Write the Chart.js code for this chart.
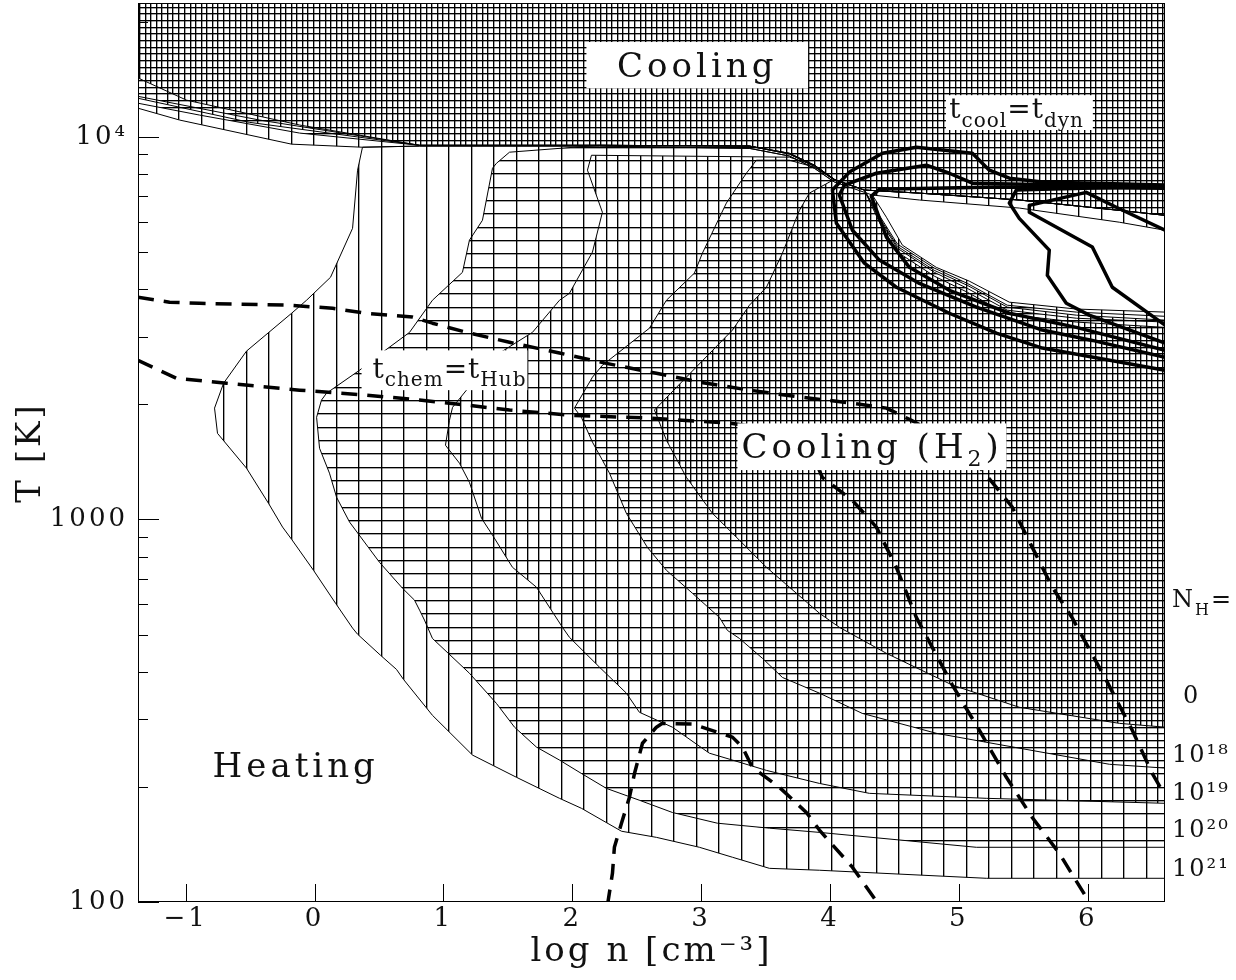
<!DOCTYPE html>
<html lang="en">
<head>
<meta charset="UTF-8">
<title>Heating and cooling regions - log n vs T</title>
<script src="https://cdn.jsdelivr.net/npm/chart.js"></script>
<style>
    body { margin: 0; background: #fff; }
    #chart { display: block; }
</style>
</head>
<body>
<canvas id="chart" width="1236" height="980"></canvas>
<script>
    // Every curve is a list of [log n, log T] pairs.
    const xTicks = [-1, 0, 1, 2, 3, 4, 5, 6];
    const yTicks = [100, 200, 300, 400, 500, 600, 700, 800, 900,
                    1000, 2000, 3000, 4000, 5000, 6000, 7000, 8000, 9000, 10000, 20000];
    const yTickLabels = {100: '100', 1000: '1000', 10000: '10⁴'};

    // Cooling regions for each column density: upper part (above ~10^4 K) and lower-right part
    const n21Top = [[-1.37,4.35],[6.6,4.35],[6.6,3.756],[6.245,3.777],[5.469,3.814],[4.694,3.835],[4.329,3.848],[4.034,3.882],[3.879,3.918],[3.685,3.950],[3.375,3.970],[2.211,3.976],[0.815,3.976],[0.372,3.973],[-0.178,3.981],[-1.047,4.044],[-1.37,4.075]];
    const n21Low = [[4.329,3.848],[4.438,3.790],[4.562,3.717],[4.825,3.659],[5.081,3.623],[5.392,3.568],[5.912,3.550],[6.6,3.542],[6.6,2.062],[5.213,2.062],[3.918,2.083],[3.530,2.088],[3.243,2.117],[2.987,2.143],[2.653,2.169],[2.382,2.185],[2.071,2.245],[1.901,2.271],[1.567,2.326],[1.226,2.384],[0.915,2.488],[0.690,2.582],[0.636,2.608],[0.512,2.645],[0.334,2.700],[0.295,2.716],[0.163,2.781],[-0.008,2.867],[-0.178,2.948],[-0.248,2.980],[-0.357,3.042],[-0.528,3.134],[-0.753,3.225],[-0.776,3.291],[-0.706,3.356],[-0.528,3.440],[-0.178,3.539],[-0.062,3.573],[0.124,3.633],[0.295,3.761],[0.334,3.913],[0.372,3.973],[0.815,3.976],[2.211,3.976],[3.375,3.970],[3.685,3.950],[3.879,3.918],[4.034,3.882]];

    const n20Top = [[-1.37,4.35],[6.6,4.35],[6.6,3.795],[6.245,3.808],[5.469,3.835],[4.694,3.853],[4.267,3.861],[4.034,3.887],[3.879,3.923],[3.685,3.955],[3.375,3.976],[2.211,3.978],[0.815,3.978],[-0.116,4.010],[-0.892,4.057],[-1.37,4.088]];
    const n20Low = [[4.267,3.861],[4.383,3.795],[4.523,3.720],[4.810,3.657],[5.066,3.617],[5.376,3.560],[5.912,3.542],[6.6,3.531],[6.6,2.143],[5.136,2.143],[3.918,2.182],[3.530,2.193],[3.126,2.206],[2.777,2.234],[2.521,2.266],[2.265,2.297],[2.071,2.336],[1.901,2.371],[1.722,2.405],[1.552,2.457],[1.412,2.519],[1.202,2.598],[0.915,2.689],[0.853,2.737],[0.815,2.763],[0.776,2.789],[0.683,2.820],[0.504,2.888],[0.272,2.993],[0.171,3.058],[0.116,3.121],[0.039,3.186],[0.016,3.267],[0.054,3.312],[0.093,3.330],[0.349,3.390],[0.520,3.435],[0.737,3.489],[0.915,3.573],[1.148,3.646],[1.202,3.730],[1.303,3.782],[1.381,3.918],[1.412,3.931],[1.513,3.960],[2.211,3.978],[3.375,3.976],[3.685,3.955],[3.879,3.923],[4.034,3.887]];

    const n19Top = [[-1.37,4.35],[6.6,4.35],[6.6,3.795],[6.245,3.808],[5.469,3.835],[4.694,3.853],[4.267,3.861],[4.034,3.889],[3.879,3.926],[3.685,3.957],[3.375,3.976],[2.211,3.978],[0.815,3.978],[-0.504,4.038],[-1.37,4.101]];
    const n19Low = [[4.267,3.861],[4.383,3.790],[4.523,3.714],[4.810,3.651],[5.066,3.612],[5.376,3.555],[5.912,3.534],[6.6,3.521],[6.6,2.258],[5.213,2.271],[4.306,2.284],[3.918,2.310],[3.507,2.344],[3.243,2.371],[3.064,2.389],[2.777,2.457],[2.521,2.496],[2.420,2.546],[2.211,2.614],[1.978,2.692],[1.924,2.718],[1.722,2.823],[1.536,2.875],[1.381,2.959],[1.296,3.003],[1.202,3.097],[1.125,3.147],[1.016,3.194],[1.047,3.259],[1.071,3.293],[1.179,3.338],[1.435,3.435],[1.691,3.489],[1.901,3.573],[1.978,3.591],[2.157,3.699],[2.234,3.803],[2.118,3.913],[2.149,3.952],[3.685,3.947],[3.879,3.926],[4.034,3.889]];

    const n18Top = [[-1.37,4.35],[6.6,4.35],[6.6,3.795],[6.245,3.808],[5.469,3.835],[4.694,3.853],[4.267,3.861],[4.034,3.889],[3.879,3.926],[3.685,3.957],[3.375,3.976],[2.211,3.978],[0.815,3.978],[-0.427,4.044],[-1.37,4.106]];
    const n18Low = [[4.267,3.861],[4.383,3.785],[4.523,3.709],[4.810,3.646],[5.066,3.604],[5.376,3.547],[5.912,3.526],[6.6,3.516],[6.6,2.350],[6.168,2.360],[4.825,2.441],[4.251,2.493],[3.918,2.546],[3.631,2.587],[3.476,2.637],[3.297,2.689],[3.204,2.710],[3.142,2.744],[2.933,2.807],[2.731,2.867],[2.583,2.927],[2.420,3.016],[2.289,3.121],[2.157,3.202],[2.071,3.267],[2.017,3.291],[2.157,3.372],[2.234,3.403],[2.599,3.500],[2.731,3.573],[2.948,3.644],[3.010,3.696],[3.196,3.827],[3.351,3.905],[3.429,3.939],[3.685,3.939],[3.879,3.921],[4.034,3.889]];

    const n0Top = [[-1.37,4.35],[6.6,4.35],[6.6,3.795],[6.245,3.808],[5.469,3.835],[4.694,3.853],[4.267,3.861],[4.034,3.889],[3.879,3.926],[3.685,3.957],[3.375,3.976],[2.211,3.978],[0.815,3.978],[-0.116,4.031],[-0.993,4.096],[-1.37,4.154]];
    const n0Low = [[4.267,3.861],[4.383,3.777],[4.523,3.699],[4.810,3.636],[5.066,3.594],[5.376,3.536],[5.912,3.516],[6.6,3.502],[6.6,2.457],[6.245,2.467],[5.469,2.509],[4.950,2.567],[4.438,2.650],[4.073,2.718],[3.918,2.755],[3.507,2.875],[3.243,2.964],[3.088,3.016],[2.886,3.110],[2.731,3.207],[2.638,3.286],[2.886,3.372],[3.243,3.495],[3.375,3.560],[3.507,3.607],[3.631,3.696],[3.763,3.808],[3.840,3.853],[4.034,3.889]];

    // t_cool = t_dyn curves (thick solid)
    const tcoolA = [[6.6,3.874],[5.648,3.882],[5.392,3.892],[5.237,3.913],[5.105,3.957],[4.670,3.973],[4.407,3.957],[4.151,3.908],[4.019,3.861],[4.050,3.774],[4.267,3.670],[4.515,3.607],[4.926,3.539],[5.291,3.487],[5.648,3.448],[6.6,3.390]];
    const tcoolB = [[6.6,3.869],[5.105,3.879],[4.926,3.905],[4.748,3.926],[4.360,3.905],[4.112,3.874],[4.073,3.848],[4.174,3.756],[4.383,3.678],[4.694,3.617],[5.136,3.555],[5.648,3.495],[6.036,3.468],[6.6,3.424]];
    const tcoolC = [[6.6,3.866],[5.314,3.869],[4.383,3.863],[4.321,3.845],[4.438,3.738],[4.616,3.659],[4.926,3.599],[5.392,3.539],[5.912,3.502],[6.6,3.442]];
    const tcoolD = [[6.6,3.871],[5.648,3.863],[5.446,3.861],[5.392,3.827],[5.469,3.787],[5.702,3.704],[5.687,3.638],[5.834,3.565],[6.012,3.534],[6.6,3.461]];
    const tcoolE = [[6.6,3.756],[6.222,3.816],[5.989,3.855],[5.547,3.821],[5.547,3.803],[6.036,3.712],[6.191,3.607],[6.6,3.508]];

    // t_chem = t_Hub curves (thick dashed)
    const chemUpper = [[-1.37,3.581],[-1.125,3.568],[-0.892,3.565],[-0.194,3.560],[0.140,3.552],[0.403,3.539],[0.760,3.529],[0.915,3.513],[1.179,3.489],[1.513,3.463],[1.901,3.435],[2.265,3.408],[2.653,3.382],[2.987,3.359],[3.375,3.338],[3.763,3.320],[4.174,3.304],[4.438,3.291],[4.632,3.259],[4.926,3.207],[5.182,3.129],[5.415,3.032],[5.570,2.927],[5.725,2.823],[5.881,2.742],[6.144,2.580],[6.346,2.449],[6.501,2.336],[6.6,2.279]];
    const chemLower = [[-1.37,3.416],[-1.071,3.369],[-0.683,3.356],[-0.116,3.338],[0.403,3.325],[0.815,3.312],[1.047,3.304],[1.513,3.286],[2.002,3.272],[2.599,3.265],[3.243,3.251],[3.685,3.228],[3.856,3.176],[3.941,3.110],[4.174,3.050],[4.360,2.980],[4.515,2.875],[4.670,2.744],[4.950,2.567],[5.159,2.449],[5.369,2.326],[5.570,2.221],[5.780,2.127],[6.028,1.991]];
    const chemBell = [[2.273,1.991],[2.312,2.075],[2.327,2.143],[2.382,2.206],[2.444,2.274],[2.483,2.336],[2.545,2.415],[2.653,2.457],[2.700,2.467],[2.933,2.465],[3.243,2.431],[3.320,2.405],[3.398,2.352],[3.607,2.300],[3.817,2.234],[3.918,2.188],[4.174,2.091],[4.383,1.991]];

    // Annotations: white boxes [x0, x1, logT0, logT1] and texts anchored at [log n, log T]
    const labelBoxes = [
        [2.11, 3.83, 4.127, 4.248],
        [4.90, 6.04, 4.018, 4.109],
        [0.365, 1.652, 3.338, 3.442],
        [3.282, 5.369, 3.129, 3.251]
    ];
    const plotLabels = [
        {at: [2.97, 4.156], align: 'center', spacing: 4, parts: [['Cooling', 34, 0]]},
        {at: [4.926, 4.049], spacing: 1, parts: [['t', 28, 0], ['cool', 20, 9], ['=', 28, 0], ['t', 28, 0], ['dyn', 20, 9]]},
        {at: [0.450, 3.369], spacing: 1, parts: [['t', 28, 0], ['chem', 20, 8], ['=', 28, 0], ['t', 28, 0], ['Hub', 20, 8]]},
        {at: [3.313, 3.160], spacing: 4, parts: [['Cooling (H', 34, 0], ['2', 22, 8], [')', 34, 0]]},
        {at: [-0.791, 2.326], spacing: 4, parts: [['Heating', 34, 0]]}
    ];
    // column density labels to the right of the frame
    const sideLabels = [
        {logT: 2.770, dx: 7, parts: [['N', 24, 0], ['H', 16, 8], ['=', 24, 0]]},
        {logT: 2.519, dx: 18, parts: [['0', 24, 0]]},
        {logT: 2.365, dx: 7, parts: [['10¹⁸', 24, 0]]},
        {logT: 2.266, dx: 7, parts: [['10¹⁹', 24, 0]]},
        {logT: 2.169, dx: 7, parts: [['10²⁰', 24, 0]]},
        {logT: 2.067, dx: 7, parts: [['10²¹', 24, 0]]}
    ];

    const FONT = '"DejaVu Serif", "Liberation Serif", serif';
    const canvas = document.getElementById('chart');
    const ctx = canvas.getContext('2d');

    // hatch tiles: vertical line columns and horizontal line rows in a 45x40 tile,
    // each line with a faint neighbour so it reads like the soft plotter lines
    function makeHatch(cols, rows) {
        const tile = document.createElement('canvas');
        tile.width = 45;
        tile.height = 40;
        const g = tile.getContext('2d');
        g.fillStyle = 'rgba(0,0,0,0.35)';
        cols.forEach(c => g.fillRect(c + 1, 0, 1, 40));
        rows.forEach(r => g.fillRect(0, r + 1, 45, 1));
        g.fillStyle = '#000';
        cols.forEach(c => g.fillRect(c, 0, 1, 40));
        rows.forEach(r => g.fillRect(0, r, 45, 1));
        return ctx.createPattern(tile, 'repeat');
    }
    const hatch21 = makeHatch([21, 43], []);
    const hatch20 = makeHatch([], [0, 13, 27]);
    const hatch19 = makeHatch([10, 32], []);
    const hatch18 = makeHatch([], [7, 20, 33]);
    const hatch0 = makeHatch([4, 15, 26, 37], []);

    const toPoints = arr => arr.map(p => ({x: p[0], y: Math.pow(10, p[1])}));

    function curve(arr, width, dash) {
        return {
            data: toPoints(arr), showLine: true, fill: false,
            borderColor: '#000', borderWidth: width, borderDash: dash || [],
            borderJoinStyle: 'round', borderCapStyle: 'butt',
            pointRadius: 0, pointHoverRadius: 0
        };
    }
    function region(arr, pattern) {
        return {
            data: toPoints(arr), showLine: true, fill: 'shape',
            backgroundColor: pattern, borderColor: '#000', borderWidth: 1,
            pointRadius: 0, pointHoverRadius: 0
        };
    }

    function richText(c, x, y, parts, align, spacing) {
        c.letterSpacing = spacing + 'px';
        let w = 0;
        parts.forEach(p => { c.font = p[1] + 'px ' + FONT; w += c.measureText(p[0]).width; });
        let cx = align === 'center' ? x - w / 2 : x;
        parts.forEach(p => {
            c.font = p[1] + 'px ' + FONT;
            c.fillText(p[0], cx, y + p[2]);
            cx += c.measureText(p[0]).width;
        });
    }

    const decorations = {
        id: 'decorations',
        beforeDraw(chart) {
            chart.ctx.letterSpacing = '3px';
        },
        afterDatasetsDraw(chart) {
            const c = chart.ctx;
            const a = chart.chartArea;
            const xs = chart.scales.x;
            const ys = chart.scales.y;
            c.save();
            c.strokeStyle = '#000';
            c.lineWidth = 1;
            c.beginPath();
            yTicks.forEach(t => {
                const py = Math.round(ys.getPixelForValue(t)) + 0.5;
                c.moveTo(a.left, py);
                c.lineTo(a.left + (yTickLabels[t] ? 21 : 10), py);
            });
            xTicks.forEach(v => {
                const px = Math.round(xs.getPixelForValue(v)) + 0.5;
                c.moveTo(px, a.bottom);
                c.lineTo(px, a.bottom - 18);
            });
            c.stroke();
            c.strokeRect(a.left + 0.5, a.top + 0.5, a.right - a.left - 1, a.bottom - a.top - 1);

            c.fillStyle = '#fff';
            labelBoxes.forEach(b => {
                const x0 = xs.getPixelForValue(b[0]);
                const x1 = xs.getPixelForValue(b[1]);
                const y0 = ys.getPixelForValue(Math.pow(10, b[2]));
                const y1 = ys.getPixelForValue(Math.pow(10, b[3]));
                c.fillRect(x0, y1, x1 - x0, y0 - y1);
            });
            c.fillStyle = '#111';
            c.textBaseline = 'alphabetic';
            c.textAlign = 'left';
            plotLabels.forEach(l => {
                richText(c, xs.getPixelForValue(l.at[0]), ys.getPixelForValue(Math.pow(10, l.at[1])),
                    l.parts, l.align, l.spacing);
            });
            sideLabels.forEach(l => {
                richText(c, a.right + l.dx, ys.getPixelForValue(Math.pow(10, l.logT)), l.parts, 'left', 2);
            });
            c.restore();
        }
    };

    new Chart(ctx, {
        type: 'scatter',
        data: {
            datasets: [
                curve(chemUpper, 3.5, [16, 10]),
                curve(chemLower, 3.5, [16, 10]),
                curve(chemBell, 3.5, [16, 10]),
                curve(tcoolA, 3.5),
                curve(tcoolB, 3.5),
                curve(tcoolC, 3.5),
                curve(tcoolD, 3.5),
                curve(tcoolE, 3.5),
                region(n0Top, hatch0), region(n0Low, hatch0),
                region(n18Top, hatch18), region(n18Low, hatch18),
                region(n19Top, hatch19), region(n19Low, hatch19),
                region(n20Top, hatch20), region(n20Low, hatch20),
                region(n21Top, hatch21), region(n21Low, hatch21)
            ]
        },
        options: {
            responsive: false,
            devicePixelRatio: 1,
            animation: false,
            events: [],
            layout: {padding: {left: 0, right: 71, top: 3, bottom: 0}},
            font: {family: FONT},
            plugins: {legend: {display: false}, tooltip: {enabled: false}},
            scales: {
                x: {
                    type: 'linear', min: -1.37, max: 6.6,
                    grid: {display: false, drawTicks: false},
                    border: {display: false},
                    afterBuildTicks: s => { s.ticks = xTicks.map(v => ({value: v})); },
                    afterFit: s => { s.height = 78; s.paddingLeft = 0; s.paddingRight = 0; },
                    ticks: {
                        autoSkip: false, padding: 2, color: '#111',
                        font: {family: FONT, size: 26},
                        callback: v => (v < 0 ? '\u2212' + Math.abs(v) : String(v))
                    },
                    title: {
                        display: true, text: 'log n [cm⁻³]', color: '#111',
                        font: {family: FONT, size: 34}, padding: {top: 0, bottom: 7}
                    }
                },
                y: {
                    type: 'logarithmic', min: 100, max: Math.pow(10, 4.35),
                    grid: {display: false, drawTicks: false},
                    border: {display: false},
                    afterBuildTicks: s => { s.ticks = yTicks.map(v => ({value: v})); },
                    afterFit: s => { s.width = 138; s.paddingTop = 0; s.paddingBottom = 0; },
                    ticks: {
                        autoSkip: false, padding: 10, color: '#111',
                        font: {family: FONT, size: 26},
                        callback: v => yTickLabels[v] || ''
                    },
                    title: {
                        display: true, text: 'T [K]', color: '#111',
                        font: {family: FONT, size: 34}, padding: {top: 11, bottom: 0}
                    }
                }
            }
        },
        plugins: [decorations]
    });
</script>
</body>
</html>
